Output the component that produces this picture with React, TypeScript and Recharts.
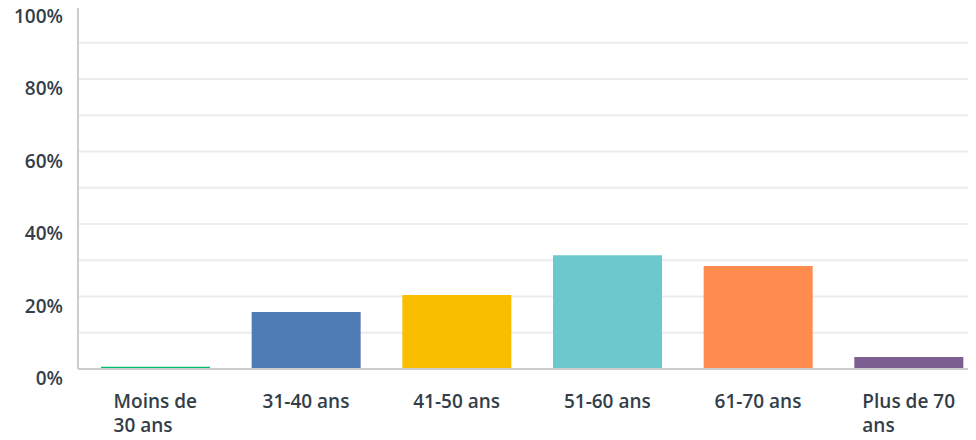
import { BarChart, Bar, XAxis, YAxis, CartesianGrid, Cell } from "recharts";

const categories = [["Moins de", "30 ans"], ["31-40 ans"], ["41-50 ans"], ["51-60 ans"], ["61-70 ans"], ["Plus de 70", "ans"]];
const values = [0.6, 15.7, 20.4, 31.4, 28.4, 3.3];
const colors = ["#00bf6f", "#507cb6", "#f9be00", "#6bc8cd", "#ff8b4f", "#7d5e90"];
const yTicks = [0, 10, 20, 30, 40, 50, 60, 70, 80, 90, 100];

const data = categories.map((c, i) => ({ name: c.join("\n"), value: values[i] }));

const FONT = "'Open Sans', sans-serif";
const TEXT = "#333e48";
const SIZE = 19;

let ctx: CanvasRenderingContext2D | null = null;
function measure(s: string) {
  if (!ctx) ctx = document.createElement("canvas").getContext("2d");
  if (!ctx) return s.length * 10;
  ctx.font = `600 ${SIZE}px ${FONT}`;
  return ctx.measureText(s).width;
}

function XTick({ x, y, payload }: any) {
  const lines = String(payload.value).split("\n");
  const w = Math.max(...lines.map(measure));
  return (
    <g>
      {lines.map((l, i) => (
        <text key={i} x={x - w / 2} y={y + 31 + i * 24} textAnchor="start" fill={TEXT} fontSize={SIZE} fontWeight={600} fontFamily={FONT}>
          {l}
        </text>
      ))}
    </g>
  );
}

function YTick({ x, y, payload }: any) {
  if (payload.value % 20 !== 0) return <g />;
  return (
    <text x={x - 7} y={y + 16} textAnchor="end" fill={TEXT} fontSize={SIZE} fontWeight={600} fontFamily={FONT}>
      {payload.value}%
    </text>
  );
}

export default function App() {
  return (
    <div style={{ margin: -8, width: 984, height: 440, background: "#fff" }}>
      <BarChart width={984} height={440} data={data} margin={{ top: 6.5, right: 0, left: 0, bottom: 0 }} barCategoryGap={0}>
        <CartesianGrid vertical={false} stroke="#ececec" strokeWidth={2} />
        <XAxis dataKey="name" interval={0} height={71} axisLine={{ stroke: "#cccccc", strokeWidth: 2 }} tickLine={false} tick={<XTick />} padding={{ left: 2, right: 0 }} />
        <YAxis width={78} domain={[0, 100]} ticks={yTicks} interval={0} axisLine={{ stroke: "#cccccc", strokeWidth: 2 }} tickLine={false} tick={<YTick />} />
        <Bar dataKey="value" barSize={109} isAnimationActive={false}>
          {values.map((_, i) => (
            <Cell key={i} fill={colors[i]} />
          ))}
        </Bar>
      </BarChart>
    </div>
  );
}
